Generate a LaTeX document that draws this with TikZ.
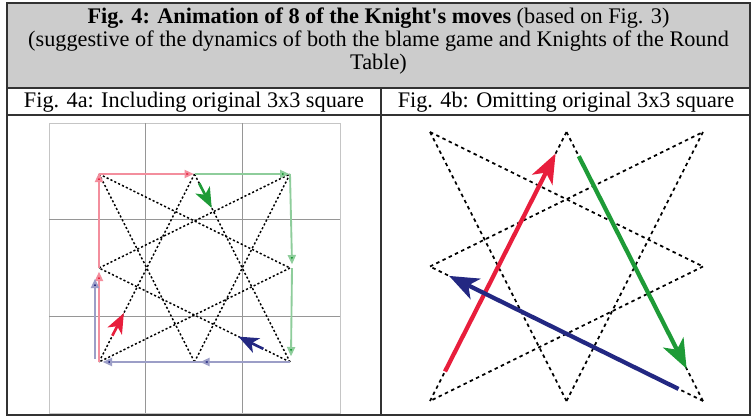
\documentclass[tikz,border=0pt]{standalone}
\usepackage{fontspec}
\setmainfont{Liberation Serif}
\usetikzlibrary{arrows.meta,calc}
\definecolor{hdrGray}{RGB}{204,204,204}
\definecolor{ruleGray}{RGB}{50,50,50}
\definecolor{gridGray}{RGB}{150,150,150}
\definecolor{moveRed}{RGB}{232,30,60}
\definecolor{moveGreen}{RGB}{30,155,55}
\definecolor{moveBlue}{RGB}{35,40,130}

\begin{document}
\begin{tikzpicture}[x=0.75pt, y=-0.75pt,
  outerrule/.style={draw=ruleGray, line width=1.5pt},
  innerrule/.style={draw=ruleGray, line width=1pt},
  titletext/.style={font=\fontsize{16.7}{17.3}\selectfont, align=center, inner sep=0pt},
  captext/.style={font=\fontsize{16.7}{17.3}\selectfont, inner sep=0pt},
  kmoveA/.style={black, line width=1.1pt, dash pattern=on 1.6pt off 1.6pt},
  kmoveB/.style={black, line width=1.3pt, dash pattern=on 2.6pt off 2.6pt},
  lightarrow/.style={line width=1.4pt, -{Triangle[length=7pt, width=6pt]}, shorten >=-1pt},
  boldarrowA/.style={line width=2pt, -{Stealth[length=15pt, width=12pt, inset=4pt]}},
  boldarrowB/.style={line width=3.2pt, -{Stealth[length=22pt, width=17pt, inset=6pt]}},
]
\useasboundingbox (0,0) rectangle (752,419);

% ===================================================================
% TABLE: header, captions and frame
% ===================================================================
\fill[hdrGray] (7,3) rectangle (750,88);
\fill[white] (7,88) rectangle (750,415);

\node[titletext] (title) at (378.5,41)
  {\textbf{Fig. 4: Animation of 8 of the Knight\textquotesingle s moves} (based on Fig. 3)\\
   (suggestive of the dynamics of both the blame game and Knights of the Round\\
   Table)};

\node[captext] (capA) at (194,102) {Fig. 4a: Including original 3x3 square};
\node[captext] (capB) at (566,102) {Fig. 4b: Omitting original 3x3 square};

\draw[innerrule] (7,88) -- (750,88);
\draw[innerrule] (7,115) -- (750,115);
\draw[innerrule] (381,88) -- (381,415);
\draw[outerrule] (7,3) rectangle (750,415);

% ===================================================================
% PANEL (a) -- knight's moves with the 3x3 square
% ===================================================================
\begin{scope}
  % grid
  \draw[gridGray!55, line width=0.7pt] (49,123) rectangle (340,413);
  \foreach \gx in {145,242} {
    \draw[gridGray, line width=0.5pt] (\gx,123) -- (\gx,413);
  }
  \foreach \gy in {219,316} {
    \draw[gridGray, line width=0.5pt] (49,\gy) -- (340,\gy);
  }

  % cell centres
  \foreach \i in {0,1,2} {
    \foreach \j in {0,1,2} {
      \coordinate (L\i\j) at (99+95.5*\i, 174+94*\j);
    }
  }

  % knight's moves
  \foreach \u/\v in {00/21,21/02,02/10,10/22,22/01,01/20,20/12,12/00} {
    \draw[kmoveA] (L\u) -- (L\v);
  }

  % square round the edge
  \draw[lightarrow, draw=moveRed!50, -{Triangle[length=7pt, width=6pt, fill=moveRed]}] (L02) -- ($(L01)+(0,5)$);
  \draw[lightarrow, draw=moveRed!50, -{Triangle[length=7pt, width=6pt, fill=moveRed]}] (L01) -- (L00);
  \draw[lightarrow, draw=moveRed!50, -{Triangle[length=7pt, width=6pt, fill=moveRed]}] (L00) -- ($(L10)+(-2,0)$);
  \draw[lightarrow, draw=moveGreen!50, -{Triangle[length=7pt, width=6pt, fill=moveGreen]}] (L10) -- ($(L20)+(-2,0)$);
  \draw[lightarrow, draw=moveGreen!50, -{Triangle[length=7pt, width=6pt, fill=moveGreen]}] (L20) -- ($(L21)+(2,-5)$);
  \draw[lightarrow, draw=moveGreen!50, -{Triangle[length=7pt, width=6pt, fill=moveGreen]}] ($(L21)+(2,0)$) -- ($(L22)+(1,-7)$);
  \draw[lightarrow, draw=moveBlue!45, -{Triangle[length=7pt, width=6pt, fill=moveBlue]}] (L22) -- ($(L12)+(7,0)$);
  \draw[lightarrow, draw=moveBlue!45, -{Triangle[length=7pt, width=6pt, fill=moveBlue]}] ($(L12)+(7,0)$) -- ($(L02)+(5,0)$);
  \draw[lightarrow, draw=moveBlue!45, -{Triangle[length=7pt, width=6pt, fill=moveBlue]}] ($(L02)+(-4,-3)$) -- ($(L01)+(-4,12)$);

  % moves along the star
  \draw[boldarrowA, moveRed] ($(L02)!0.14!(L10)$) -- ($(L02)!0.26!(L10)$);
  \draw[boldarrowA, moveGreen] ($(L10)!0.05!(L22)$) -- ($(L10)!0.18!(L22)$);
  \draw[boldarrowA, moveBlue] ($(L22)!0.14!(L01)$) -- ($(L22)!0.27!(L01)$);
\end{scope}

% ===================================================================
% PANEL (b) -- knight's moves without the 3x3 square
% ===================================================================
\begin{scope}
  \foreach \i in {0,1,2} {
    \foreach \j in {0,1,2} {
      \coordinate (R\i\j) at (430+136.5*\i, 132+134.5*\j);
    }
  }

  \foreach \u/\v in {00/21,21/02,02/10,10/22,22/01,01/20,20/12,12/00} {
    \draw[kmoveB] (R\u) -- (R\v);
  }

  \draw[boldarrowB, moveRed] ($(R02)!0.11!(R10)$) -- ($(R02)!0.92!(R10)$);
  \draw[boldarrowB, moveGreen] ($(R10)!0.09!(R22)$) -- ($(R10)!0.88!(R22)$);
  \draw[boldarrowB, moveBlue] ($(R22)!0.09!(R01)$) -- ($(R22)!0.93!(R01)$);
\end{scope}

\end{tikzpicture}
\end{document}
